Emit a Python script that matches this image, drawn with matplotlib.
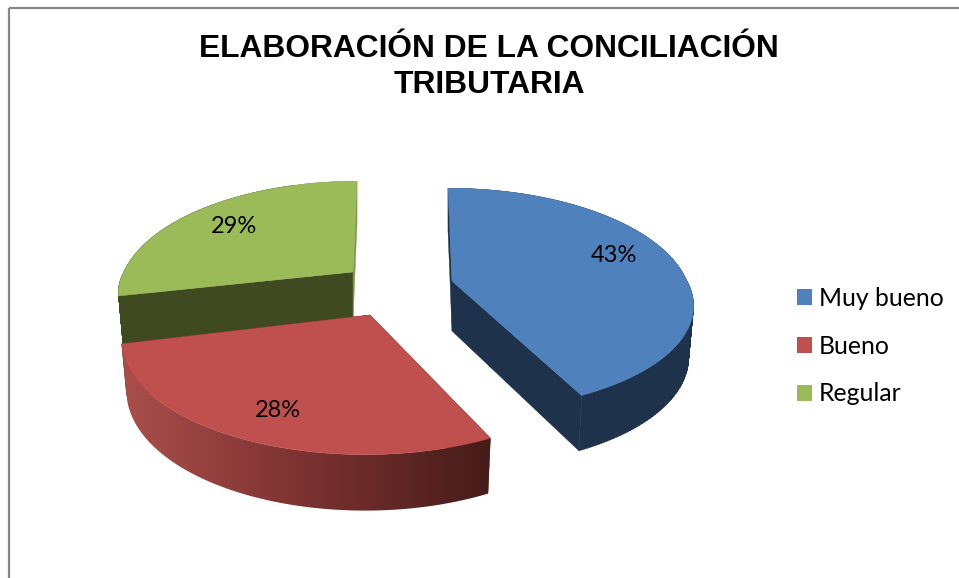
import numpy as np
import matplotlib
matplotlib.use("Agg")
import matplotlib.pyplot as plt
from matplotlib.patches import Polygon, Patch, Rectangle, PathPatch
from matplotlib.path import Path

title = "ELABORACIÓN DE LA CONCILIACIÓN\nTRIBUTARIA"
categories = ["Muy bueno", "Bueno", "Regular"]
shares = [43, 28, 29]
colors = ["#4F81BD", "#C0504D", "#9BBB59"]

# layout / style (pixels of the 959x578 picture)
apexes = [(452, 281), (370, 315), (353, 272)]
rim_dx = [-4, -5, 4]
rim_dy = [-2, 0, 0]
front_dx = [9, 0, 0]
x_scale = [1.0, 1.0, 0.98]
front_scale = [0.945, 1.0, 0.83]
label_nudge = [(3, -7), (-4, 12), (-1, -1)]
radial_cols = ["#1E324C", "#4A1C1A", "#404A21"]
radial_z = [0.5, -0.5, 0.5]
GREEN_BACK = "#7F9A47"
A, B, K, DEPTH, SHRINK = 238, 110, 0.212, 50, 0.98
GRAD_X = [128, 300, 488]
RED_GRAD = [(168, 78, 74), (125, 50, 50), (70, 28, 25)]

fig = plt.figure(figsize=(9.59, 5.78), dpi=100, facecolor="white")
ax = fig.add_axes([0, 0, 1, 1])
ax.set_xlim(0, 959)
ax.set_ylim(578, 0)
ax.axis("off")


def project(i, r, th, low=False):
    apex = apexes[i]
    u, v = r * np.sin(th), r * np.cos(th)
    w = 1 + K * v
    dx = A * x_scale[i] * u / w + rim_dx[i] * r + (front_dx[i] * -v if v < 0 else 0)
    dy = B * v / w * (front_scale[i] if v < 0 else 1.0) - rim_dy[i] * r
    if low:
        return apex[0] + dx * SHRINK, apex[1] - dy + DEPTH * (1 - 0.12 * v)
    return apex[0] + dx, apex[1] - dy


def quads_path(i, ths):
    # union of wall strips, each wound the same way
    paths = []
    for a0, a1 in zip(ths[:-1], ths[1:]):
        q = [project(i, 1, a0), project(i, 1, a1), project(i, 1, a1, True), project(i, 1, a0, True)]
        paths.append(Path(q + [q[0]], closed=True))
    return Path.make_compound_path(*paths)


fracs = np.cumsum([0] + shares) / sum(shares) * 2 * np.pi
for i in [2, 1, 0]:
    t0, t1 = fracs[i], fracs[i + 1]
    ths = np.linspace(t0, t1, 160)
    z = i * -3 + 10
    # outer wall
    if i == 1:
        poly = PathPatch(quads_path(i, ths), fc="none", ec="none", transform=ax.transData, zorder=z)
        ax.add_patch(poly)
        verts = poly.get_path().vertices
        xs = np.linspace(verts[:, 0].min(), verts[:, 0].max(), 400)
        grad = np.stack([np.interp(xs, GRAD_X, [g[k] for g in RED_GRAD]) / 255 for k in range(3)], axis=-1)
        im = ax.imshow(grad[None, :, :], extent=[xs[0], xs[-1], verts[:, 1].max(), verts[:, 1].min()],
                       aspect="auto", interpolation="bilinear", zorder=z)
        im.set_clip_path(poly)
    elif i == 2:
        split = 1.9 * np.pi
        front = ths[ths <= split]
        back = ths[ths >= split]
        ax.add_patch(PathPatch(quads_path(i, back), fc=GREEN_BACK, ec=GREEN_BACK, lw=0.3, zorder=z))
        ax.add_patch(PathPatch(quads_path(i, front), fc=radial_cols[i], ec=radial_cols[i], lw=0.3, zorder=z))
    else:
        ax.add_patch(PathPatch(quads_path(i, ths), fc=radial_cols[i], ec=radial_cols[i], lw=0.3, zorder=z))
    # radial faces
    for th in (t0, t1):
        face = [project(i, 0, th), project(i, 1, th),
                project(i, 1, th, True), project(i, 0, th, True)]
        col = radial_cols[i]
        if i == 2 and th == t1:
            col = GREEN_BACK
        ax.add_patch(Polygon(face, closed=True, fc=col, ec=col, lw=0.3, zorder=z + radial_z[i]))
    # top surface
    top = [project(i, 0, t0)] + [project(i, 1, t) for t in ths]
    ax.add_patch(Polygon(top, closed=True, fc=colors[i], ec=colors[i], lw=0.3, zorder=z + 1))
    # value label
    mid = (t0 + t1) / 2
    x, y = project(i, 0.72, mid)
    ax.text(x + label_nudge[i][0], y + label_nudge[i][1], f"{shares[i]}%", ha="center", va="center",
            fontsize=17, family="Lato", color="black", zorder=20)

ax.set_xlim(0, 959)
ax.set_ylim(578, 0)

# frame
ax.add_patch(Rectangle((9, 8), 1000, 700, fc="none", ec="#868686", lw=1.6, zorder=30))

ax.text(489, 67, title, ha="center", va="center", fontsize=22.9, fontweight="bold",
        family="Liberation Sans", linespacing=1.22, color="black")

handles = [Patch(fc=c, ec=c, lw=0) for c in colors]
ax.legend(handles, categories, loc="upper left", bbox_to_anchor=(797 / 959, 1 - 287 / 578),
          frameon=False, prop={"family": "Lato", "size": 17.8}, borderaxespad=0, borderpad=0,
          handlelength=0.62, handleheight=0.62, handletextpad=0.27, labelspacing=1.0)

fig.savefig("out.png", dpi=100)
